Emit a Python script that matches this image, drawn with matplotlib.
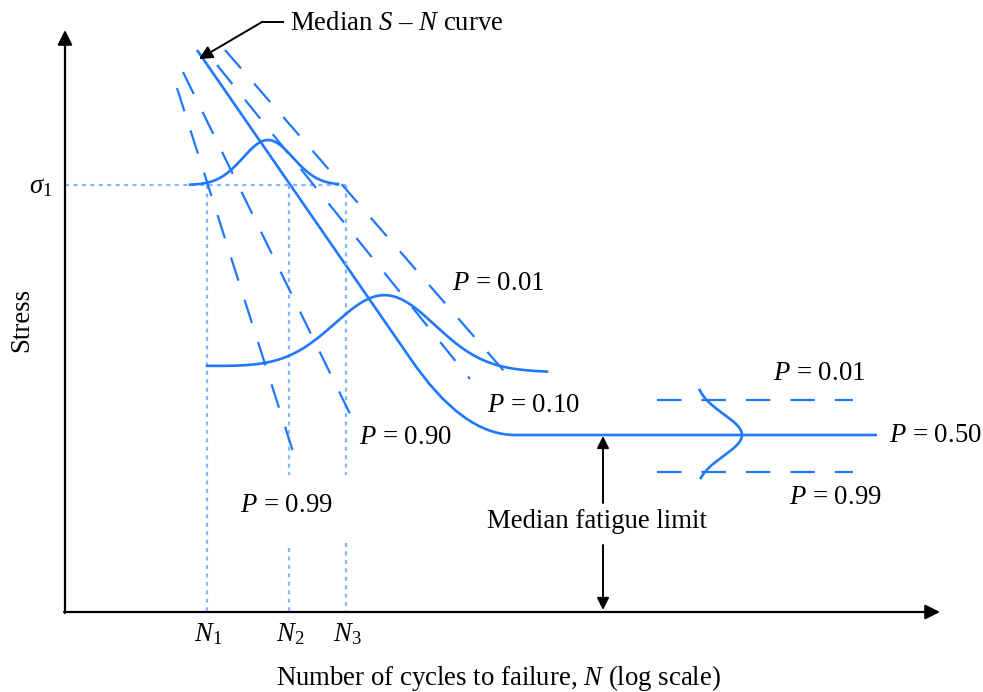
import numpy as np
import matplotlib.pyplot as plt
from matplotlib.path import Path
from matplotlib.patches import PathPatch

plt.rcParams['font.family'] = ['Liberation Serif', 'DejaVu Serif']
plt.rcParams['mathtext.fontset'] = 'custom'
plt.rcParams['mathtext.rm'] = 'Liberation Serif'
plt.rcParams['mathtext.it'] = 'Liberation Serif:italic'

BLUE = '#1f78ff'
LIGHT = '#7fb6ff'

# drawing space: x = log N, y = stress, both in sheet units (y grows downward)
W, H = 983, 692

# median S-N curve: straight sloped part, rounded knee, flat fatigue limit
median_x = [197, 410, 462, 515, 877]
median_y = [50, 358, 435, 435, 435]

# probability lines on the sloped part (start, end)
band_labels = ['0.01', '0.10', '0.90', '0.99']
band_x0 = [225, 217, 183, 177]
band_y0 = [50, 65, 72, 88]
band_x1 = [510, 470, 353, 295]
band_y1 = [378, 379, 420, 458]

# scatter band around the fatigue limit
limit_band_y = [400, 472]
limit_band_x = [657, 853]

# distributions of life at two stress levels and of the fatigue limit
dist_peak = [268, 385]
dist_sigma = [25, 50]
dist_height = [45, 74]
dist_left = [190, 207]
dist_right = [338, 547]
dist_base_left = [185, 366]
dist_base_right = [185, 372]

limit_dist_base = 695
limit_dist_peak = 435
limit_dist_height = 47
limit_dist_sigma = 21
limit_dist_range = [390, 478]

sigma1 = 185
n_pos = [207, 289, 346]
n_names = ['$N_1$', '$N_2$', '$N_3$']
axis_y = 612
axis_x = 65

fig = plt.figure(figsize=(W / 100, H / 100), dpi=100)
ax = fig.add_axes([0, 0, 1, 1])
ax.set_xlim(0, W)
ax.set_ylim(H, 0)
ax.axis('off')

# axes with arrow heads
ax.annotate('', xy=(axis_x, 30), xytext=(axis_x, axis_y + 1),
            arrowprops=dict(arrowstyle='-|>', color='black', lw=1.6,
                            mutation_scale=22, shrinkA=0, shrinkB=0))
ax.annotate('', xy=(940, axis_y), xytext=(axis_x - 1, axis_y),
            arrowprops=dict(arrowstyle='-|>', color='black', lw=1.6,
                            mutation_scale=22, shrinkA=0, shrinkB=0))

# guide lines for sigma_1 and N_1..N_3
dot = dict(color=LIGHT, lw=1.6, ls=(0, (1.8, 2.0)))
ax.plot([axis_x, n_pos[2]], [sigma1, sigma1], **dot)
ax.plot([n_pos[0], n_pos[0]], [sigma1, axis_y], **dot)
for x, gap_end in zip(n_pos[1:], [548, 543]):
    ax.plot([x, x], [sigma1, 475], **dot)
    ax.plot([x, x], [gap_end, axis_y], **dot)

# median curve
codes = [Path.MOVETO, Path.LINETO, Path.CURVE3, Path.CURVE3, Path.LINETO]
med = Path(list(zip(median_x, median_y)), codes)
ax.add_patch(PathPatch(med, fill=False, edgecolor=BLUE, lw=1.9, capstyle='butt'))

# probability lines
dash = dict(color=BLUE, lw=1.6, ls=(0, (11, 9)))
for x0, y0, x1, y1 in zip(band_x0, band_y0, band_x1, band_y1):
    ax.plot([x0, x1], [y0, y1], **dash)
for y in limit_band_y:
    ax.plot(limit_band_x, [y, y], **dash)

# life distributions
for pk, sg, hh, xl, xr, bl, br in zip(dist_peak, dist_sigma, dist_height,
                                       dist_left, dist_right,
                                       dist_base_left, dist_base_right):
    xs = np.linspace(xl, xr, 200)
    base = bl + (br - bl) * (xs - xl) / (xr - xl)
    ax.plot(xs, base - hh * np.exp(-0.5 * ((xs - pk) / sg) ** 2), color=BLUE, lw=1.9)

ys = np.linspace(limit_dist_range[0], limit_dist_range[1], 200)
ax.plot(limit_dist_base + limit_dist_height *
        np.exp(-0.5 * ((ys - limit_dist_peak) / limit_dist_sigma) ** 2),
        ys, color=BLUE, lw=1.9)

# labels
fs = 19.3
ax.text(290, 24, 'Median $S$ \u2013 $N$ curve', fontsize=fs, ha='left', va='center')
ax.plot([283, 262], [22, 22], color='black', lw=1.4)
ax.annotate('', xy=(199, 59), xytext=(262, 22),
            arrowprops=dict(arrowstyle='-|>', color='black', lw=1.4,
                            mutation_scale=20, shrinkA=0, shrinkB=0))

ax.text(22, 320, 'Stress', fontsize=fs, rotation=90, ha='center', va='center')
ax.text(41, 187, r'$\sigma_1$', fontsize=fs, ha='center', va='center')
for x, name in zip(n_pos, n_names):
    ax.text(x + 1, 634, name, fontsize=fs, ha='center', va='center')
ax.text(499, 678, 'Number of cycles to failure, $N$ (log scale)',
        fontsize=fs, ha='center', va='center')

p_text = [('0.01', 498, 283), ('0.10', 533, 405), ('0.90', 405, 438),
          ('0.99', 286, 505), ('0.01', 819, 373), ('0.50', 935, 435),
          ('0.99', 835, 497)]
for val, x, y in p_text:
    ax.text(x, y, '$P$ = ' + val, fontsize=fs, ha='center', va='center')

ax.text(597, 522, 'Median fatigue limit', fontsize=fs, ha='center', va='center')
ax.annotate('', xy=(603, 436), xytext=(603, 503),
            arrowprops=dict(arrowstyle='-|>', color='black', lw=1.4,
                            mutation_scale=18, shrinkA=0, shrinkB=0))
ax.annotate('', xy=(603, 610), xytext=(603, 545),
            arrowprops=dict(arrowstyle='-|>', color='black', lw=1.4,
                            mutation_scale=18, shrinkA=0, shrinkB=0))

fig.savefig('out.png', dpi=100)
